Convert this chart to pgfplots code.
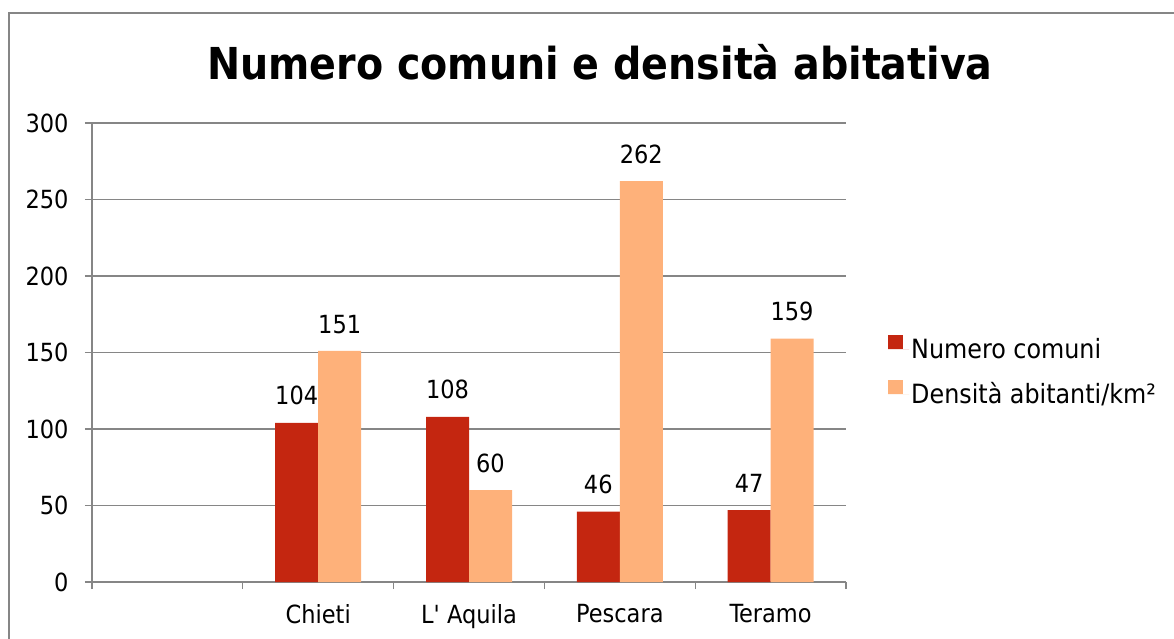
\documentclass[border=0pt]{standalone}
\usepackage{fontspec}
\setmainfont{DejaVu Sans Condensed}[Ligatures=TeXReset]
\usepackage{pgfplots}
\pgfplotsset{compat=1.18}
\definecolor{barred}{HTML}{C42610}
\definecolor{barorange}{HTML}{FEB17A}
\definecolor{axgray}{HTML}{868686}
\begin{document}
\begin{tikzpicture}[x=1pt,y=1pt]
\useasboundingbox (0,0) rectangle (1174,638);
\draw[color=axgray, line width=1.5pt] (9,625) rectangle (1200,-20);
\node[font=\fontsize{44}{50}\selectfont\bfseries, anchor=base] at (600,558) {Numero comuni e densità abitativa};
\begin{axis}[
  at={(92pt,56pt)}, anchor=south west,
  scale only axis, width=754pt, height=459pt,
  /pgf/number format/assume math mode=true,
  ymin=0, ymax=300, ytick={0,50,100,150,200,250,300},
  xmin=-0.5, xmax=4.5,
  xtick={-0.5,0.5,1.5,2.5,3.5,4.5}, xticklabels={},
  extra x ticks={1,2,3,4},
  extra x tick labels={Chieti,L' Aquila,Pescara,Teramo},
  extra x tick style={major tick length=0pt},
  tick align=outside, major tick length=7pt,
  axis x line*=bottom, axis y line*=left,
  axis line style={draw=axgray, line width=1.3pt, -},
  every tick/.style={draw=axgray, line width=1.3pt},
  ymajorgrids, grid style={draw=axgray, line width=1.3pt},
  tick label style={font=\fontsize{25}{30}\selectfont},
  xticklabel style={yshift=-19pt},
  yticklabel style={xshift=-13pt},
  ybar=0pt, bar width=43pt,
  nodes near coords,
  nodes near coords style={font=\fontsize{25}{30}\selectfont, yshift=14pt},
  legend style={at={(1,0.459)}, anchor=west, xshift=39pt, draw=none,
    font=\fontsize{26.5}{31}\selectfont, row sep=18pt},
  legend cell align=left,
  legend image code/.code={\fill[#1] (0pt,0pt) rectangle (15pt,14pt); \path (0pt,0pt) -- (21pt,0pt);},
]
\addplot[fill=barred, draw=none] coordinates {(1,104) (2,108) (3,46) (4,47)};
\addplot[fill=barorange, draw=none] coordinates {(1,151) (2,60) (3,262) (4,159)};
\legend{Numero comuni, Densità abitanti/km²}
\end{axis}
\end{tikzpicture}
\end{document}
